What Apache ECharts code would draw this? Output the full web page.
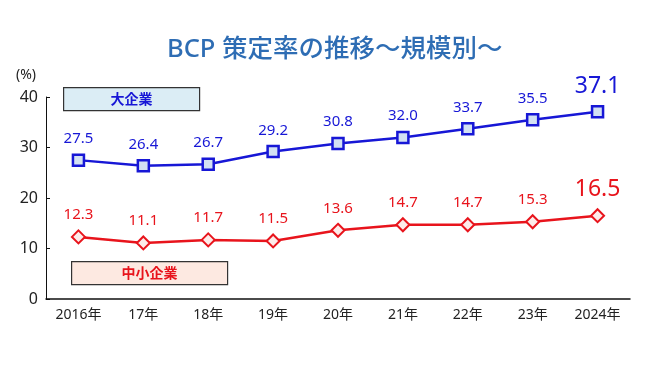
<!DOCTYPE html>
<html><head><meta charset="utf-8">
<script src="https://cdn.jsdelivr.net/npm/echarts@6/dist/echarts.min.js"></script>
<style>html,body{margin:0;padding:0;background:#fff}#c{width:650px;height:382px}</style>
</head><body><div id="c"></div>
<script>
const categories = ['2016年','17年','18年','19年','20年','21年','22年','23年','2024年'];
const largeValues = [27.5, 26.4, 26.7, 29.2, 30.8, 32.0, 33.7, 35.5, 37.1];
const smeValues = [12.3, 11.1, 11.7, 11.5, 13.6, 14.7, 14.7, 15.3, 16.5];
const yTicks = [0, 10, 20, 30, 40];
const largeName = '大企業';
const smeName = '中小企業';

const FONT = '"Noto Sans","Noto Sans CJK JP",sans-serif';
const BLUE = '#1717d6';
const RED = '#e8141c';

function labelFn(arr){
  return p => p.dataIndex === arr.length - 1 ? '{big|' + p.value.toFixed(1) + '}' : p.value.toFixed(1);
}

const chart = echarts.init(document.getElementById('c'));
chart.setOption({
  animation: false,
  textStyle: {fontFamily: FONT},
  title: {
    text: 'BCP 策定率の推移～規模別～',
    left: 162, top: 32,
    textStyle: {fontFamily: FONT, fontSize: 25.5, fontWeight: 500, color: '#2e6db4'}
  },
  grid: {left: 46, right: 20, top: 97, bottom: 83},
  xAxis: {
    type: 'category', data: categories, boundaryGap: true,
    axisLine: {lineStyle: {color: '#111', width: 1.5}},
    axisTick: {show: false},
    axisLabel: {color: '#222', fontSize: 14, margin: 9, fontFamily: FONT}
  },
  yAxis: {
    type: 'value', min: yTicks[0], max: yTicks[yTicks.length-1], interval: 10,
    name: '(%)', nameLocation: 'end', nameGap: 15,
    nameTextStyle: {color: '#222', fontSize: 14, align: 'right', padding: [0, 10, 0, 0]},
    axisLine: {show: true, lineStyle: {color: '#111', width: 1}},
    axisTick: {show: true, inside: true, length: 4, lineStyle: {color: '#111'}},
    axisLabel: {color: '#222', fontSize: 16, margin: 8, fontFamily: FONT},
    splitLine: {show: false}
  },
  series: [
    {
      name: largeName, type: 'line', data: largeValues,
      symbol: 'rect', symbolSize: 11,
      lineStyle: {color: BLUE, width: 2.5},
      itemStyle: {color: '#d3e1f3', borderColor: BLUE, borderWidth: 2.5},
      label: {show: true, position: 'top', distance: 7, color: BLUE, fontSize: 15, fontFamily: FONT,
        formatter: labelFn(largeValues),
        rich: {big: {fontSize: 23, color: BLUE, fontFamily: FONT}}}
    },
    {
      name: smeName, type: 'line', data: smeValues,
      symbol: 'diamond', symbolSize: 13,
      lineStyle: {color: RED, width: 2.5},
      itemStyle: {color: '#fdecea', borderColor: RED, borderWidth: 2},
      label: {show: true, position: 'top', distance: 7, color: RED, fontSize: 15, fontFamily: FONT,
        formatter: labelFn(smeValues),
        rich: {big: {fontSize: 23, color: RED, fontFamily: FONT}}}
    }
  ],
  graphic: [
    {type: 'group', left: 63, top: 87, children: [
      {type: 'rect', shape: {x: 0, y: 0, width: 136, height: 23}, style: {fill: '#dbedf5', stroke: '#333', lineWidth: 1.2}},
      {type: 'text', x: 68, y: 12, style: {text: largeName, fill: BLUE, font: 'bold 14px ' + FONT, align: 'center', verticalAlign: 'middle'}}
    ]},
    {type: 'group', left: 71, top: 261, children: [
      {type: 'rect', shape: {x: 0, y: 0, width: 156, height: 23}, style: {fill: '#fde9e1', stroke: '#333', lineWidth: 1.2}},
      {type: 'text', x: 78, y: 12, style: {text: smeName, fill: RED, font: 'bold 14px ' + FONT, align: 'center', verticalAlign: 'middle'}}
    ]}
  ]
});
</script></body></html>
